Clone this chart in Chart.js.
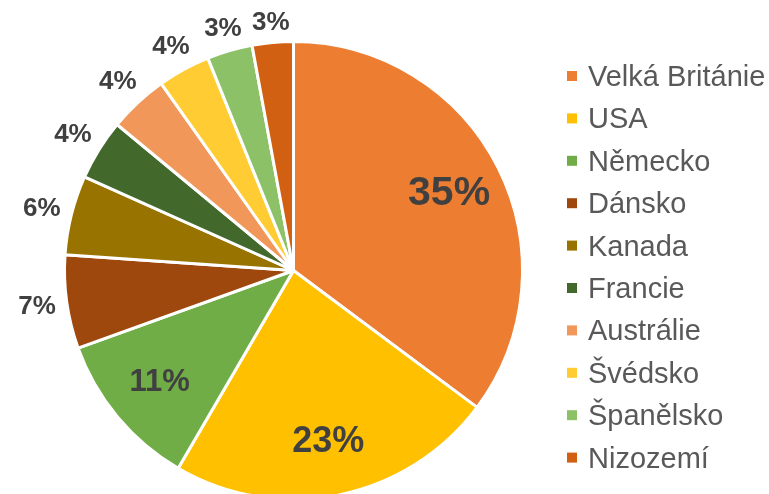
<!DOCTYPE html>
<html>
<head>
<meta charset="utf-8">
<script src="https://cdn.jsdelivr.net/npm/chart.js@4"></script>
<style>
  html, body { margin: 0; padding: 0; background: #fff; overflow: hidden; }
  #wrap { width: 769px; height: 512px; }
</style>
</head>
<body>
<div id="wrap"><canvas id="chart" width="769" height="512"></canvas></div>
<script>
// countries and their share (%)
const countries = ["Velká Británie", "USA", "Německo", "Dánsko", "Kanada", "Francie", "Austrálie", "Švédsko", "Španělsko", "Nizozemí"];
const shares = [35.2, 23.2, 11.1, 6.6, 5.6, 4.3, 4.2, 3.7, 3.2, 2.9];
const colors = ["#ED7D31", "#FFC000", "#70AD47", "#9E480E", "#997300", "#43682B", "#F1975A", "#FFCD33", "#8CC168", "#D26012"];

// label font size per slice (big ones sit inside)
const labelSizes = [41, 36, 31, 26, 26, 26, 26, 26, 26, 26];
const insideCount = 3;

// draw percentage labels on/around slices
const pieLabels = {
  id: "pieLabels",
  afterDatasetsDraw(chart) {
    const ctx = chart.ctx;
    const meta = chart.getDatasetMeta(0);
    const total = shares.reduce((a, b) => a + b, 0);
    ctx.save();
    ctx.fillStyle = "#404040";
    ctx.textAlign = "center";
    ctx.textBaseline = "middle";
    meta.data.forEach((arc, i) => {
      const p = arc.getProps(["x", "y", "startAngle", "endAngle", "outerRadius"], true);
      const mid = (p.startAngle + p.endAngle) / 2;
      const text = Math.round(shares[i] / total * 100) + "%";
      ctx.font = "bold " + labelSizes[i] + "px 'Liberation Sans', Arial, sans-serif";
      const cx = Math.cos(mid), cy = Math.sin(mid);
      let d;
      if (i < insideCount) {
        d = p.outerRadius * 0.76;
      } else {
        const hw = ctx.measureText(text).width / 2;
        d = p.outerRadius + 10 + Math.abs(cx) * hw + Math.abs(cy) * 9;
      }
      ctx.fillText(text, p.x + cx * d, p.y + cy * d + 1);
    });
    ctx.restore();
  }
};

// legend on the right
const sideLegend = {
  id: "sideLegend",
  afterDraw(chart) {
    const ctx = chart.ctx;
    const ds = chart.data.datasets[0];
    ctx.save();
    ctx.font = "29px 'Liberation Sans', Arial, sans-serif";
    ctx.textBaseline = "alphabetic";
    ctx.textAlign = "left";
    chart.data.labels.forEach((name, i) => {
      const base = 86 + i * 42.4;
      ctx.fillStyle = ds.backgroundColor[i];
      ctx.fillRect(567, base - 15, 10, 10);
      ctx.fillStyle = "#595959";
      ctx.fillText(name, 588, base);
    });
    ctx.restore();
  }
};

new Chart(document.getElementById("chart"), {
  type: "pie",
  data: {
    labels: countries,
    datasets: [{
      data: shares,
      backgroundColor: colors,
      borderColor: "#ffffff",
      borderWidth: 3
    }]
  },
  options: {
    responsive: false,
    animation: false,
    layout: { padding: { left: 62, right: 244, top: 40, bottom: 11 } },
    plugins: {
      legend: { display: false },
      tooltip: { enabled: false }
    }
  },
  plugins: [pieLabels, sideLegend]
});
</script>
</body>
</html>
